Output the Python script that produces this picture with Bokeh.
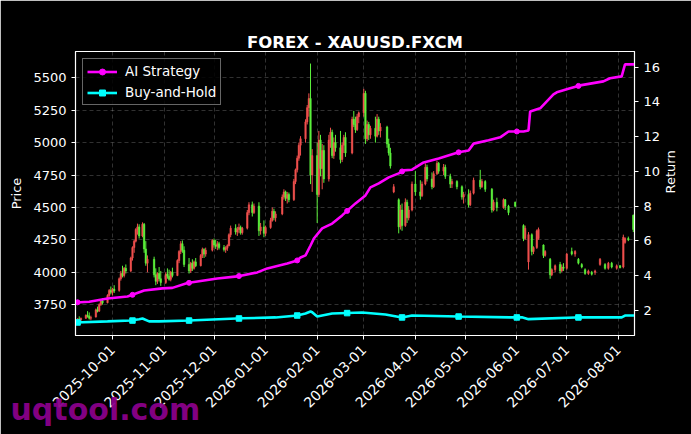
import math
import datetime as dt
from bokeh.plotting import figure
from bokeh.models import (ColumnDataSource, Range1d, LinearAxis, FixedTicker,
                          DatetimeTickFormatter, Legend, LegendItem, Title)
from bokeh.embed import file_html
from bokeh.resources import INLINE

TITLE = "FOREX - XAUUSD.FXCM"
WATERMARK = "uqtool.com"
START = dt.datetime(2025, 9, 9)

# ---- candles: day offset from START, OHLC ----
candle_day = [1, 2, 3, 6, 7, 8, 9, 12, 13, 14, 15, 16, 19, 20, 21, 22, 23,
              26, 27, 28, 29, 30, 33, 34, 35, 36, 37, 38, 40, 41, 42, 43,
              47, 48, 49, 50, 51, 54, 55, 56, 57, 58, 61, 62, 63, 64, 65,
              68, 69, 70, 71, 72, 75, 76, 77, 78, 82, 83, 84, 85, 86, 89, 90, 91,
              92, 93, 96, 97, 98, 99, 100, 103, 104, 106, 107, 110, 111, 113, 114, 117, 118, 119, 120, 124, 125, 126, 127, 128,
              131, 132, 133, 134, 135, 138, 139, 140, 141, 142, 145, 146, 147, 148, 149, 152, 153, 154, 155, 156, 159, 160, 161, 162,
              166, 167, 168, 169, 170, 173, 174, 175, 176, 177, 180, 181, 182, 183, 187, 188, 189, 191, 194, 195, 196, 198, 199, 200,
              202, 204, 207, 208, 210, 211, 214, 215, 217, 218, 221, 222, 225, 226, 229, 232, 233, 236, 237, 239, 243, 244, 246, 250, 251, 253, 257, 258, 260, 264,
              269, 270, 272, 274, 275, 277, 278, 281, 282, 285, 286, 288, 291, 292, 293, 295, 298, 300, 302, 304, 306, 308, 310, 312, 315, 318, 320, 322, 325, 327, 329, 330, 332, 335]
candle_open = [3625, 3640, 3632, 3645, 3668, 3660, 3645, 3655, 3710, 3700, 3750, 3780, 3765, 3820, 3860, 3845, 3870,
               3860, 3950, 3990, 3975, 4030, 4010, 4110, 4190, 4240, 4330, 4350, 4280, 4370, 4180, 4070,
               4100, 3980, 3930, 3990, 3950, 3920, 3985, 3970, 3945, 4000, 3975, 4090, 4160, 4220, 4170,
               4060, 4010, 4070, 4030, 4080, 4050, 4130, 4175, 4140, 4170, 4245, 4210, 4200, 4220, 4190, 4175, 4185,
               4205, 4290, 4340, 4310, 4330, 4345, 4305, 4340, 4460, 4520, 4460, 4510, 4320, 4350, 4300, 4345, 4400, 4470, 4420, 4450, 4580, 4620, 4570, 4600,
               4560, 4700, 4790, 4880, 4980, 5030, 5160, 5270, 5340, 4750, 4900, 4600, 5020, 4800, 4940, 4720, 5020, 5080, 4900, 5000, 4960, 4870, 4980, 5040,
               4920, 5180, 5140, 5100, 5200, 5230, 5380, 5030, 5140, 5060, 5110, 5050, 5180, 5090, 5120, 4990, 4920, 4620, 4560, 4350, 4480, 4360, 4540, 4420,
               4480, 4680, 4620, 4590, 4680, 4810, 4720, 4660, 4760, 4840, 4780, 4810, 4740, 4680, 4700, 4660, 4580, 4600, 4520, 4610, 4710, 4660, 4700, 4640, 4480, 4540, 4500, 4560, 4510, 4540,
               4360, 4260, 4080, 4290, 4160, 4190, 4260, 4210, 4130, 4100, 3980, 4020, 4060, 4010, 4040, 4030, 4160, 4140, 4100, 4060, 4020, 3990, 4000, 4000, 4060, 4060, 4030, 4070, 4030, 4050, 4040, 4230, 4260, 4440]
candle_high = [3645, 3660, 3650, 3675, 3700, 3690, 3665, 3720, 3735, 3760, 3790, 3800, 3830, 3870, 3890, 3880, 3900,
               3960, 4010, 4050, 4040, 4060, 4120, 4200, 4250, 4340, 4375, 4370, 4385, 4380, 4240, 4130,
               4120, 4030, 4000, 4040, 4010, 4000, 4030, 4020, 4010, 4035, 4100, 4170, 4240, 4245, 4200,
               4110, 4080, 4100, 4090, 4110, 4140, 4190, 4185, 4190, 4255, 4260, 4250, 4240, 4235, 4210, 4200, 4215,
               4300, 4360, 4370, 4350, 4375, 4360, 4350, 4480, 4540, 4545, 4530, 4540, 4380, 4400, 4360, 4420, 4500, 4490, 4470, 4600, 4640, 4630, 4620, 4615,
               4720, 4800, 4900, 5000, 5050, 5180, 5290, 5380, 5610, 4950, 5000, 5090, 5060, 4990, 4980, 5060, 5115, 5100, 5040, 5060, 5090, 5000, 5060, 5080,
               5200, 5245, 5200, 5220, 5240, 5415, 5400, 5170, 5160, 5130, 5200, 5220, 5200, 5150, 5130, 5030, 4960, 4680, 4570, 4520, 4530, 4570, 4560, 4510,
               4700, 4780, 4710, 4700, 4840, 4830, 4770, 4780, 4860, 4850, 4835, 4830, 4760, 4720, 4710, 4670, 4620, 4640, 4630, 4730, 4790, 4720, 4710, 4650, 4560, 4575, 4570, 4565, 4520, 4545,
               4370, 4360, 4310, 4300, 4200, 4330, 4345, 4215, 4170, 4110, 4030, 4060, 4080, 4060, 4070, 4150, 4190, 4170, 4110, 4070, 4030, 4020, 4010, 4020, 4110, 4070, 4080, 4080, 4060, 4055, 4290, 4270, 4275, 4445]
candle_low = [3615, 3628, 3620, 3640, 3650, 3635, 3630, 3650, 3690, 3695, 3740, 3750, 3760, 3810, 3830, 3820, 3840,
              3850, 3935, 3960, 3960, 3990, 4000, 4090, 4150, 4230, 4290, 4260, 4270, 4150, 4050, 4000,
              3960, 3900, 3910, 3930, 3895, 3910, 3950, 3935, 3930, 3960, 3970, 4070, 4140, 4150, 4040,
              3990, 3995, 4010, 4020, 4040, 4045, 4110, 4110, 4120, 4160, 4190, 4180, 4170, 4175, 4160, 4150, 4165,
              4200, 4270, 4290, 4280, 4300, 4290, 4290, 4330, 4440, 4430, 4450, 4280, 4290, 4270, 4280, 4335, 4390, 4400, 4390, 4440, 4560, 4550, 4530, 4540,
              4550, 4680, 4770, 4860, 4900, 5000, 5140, 5200, 4680, 4620, 4380, 4580, 4740, 4640, 4690, 4700, 4960, 4880, 4875, 4930, 4840, 4850, 4920, 4890,
              4910, 5120, 5075, 5090, 5150, 5200, 4990, 5010, 5020, 5030, 5000, 5040, 5060, 5040, 4960, 4900, 4800, 4610, 4300, 4330, 4320, 4350, 4380, 4400,
              4470, 4590, 4560, 4580, 4670, 4700, 4640, 4650, 4750, 4760, 4750, 4720, 4650, 4650, 4640, 4560, 4530, 4500, 4510, 4600, 4640, 4650, 4620, 4460, 4470, 4470, 4490, 4480, 4440, 4500,
              4240, 4250, 4020, 4130, 4140, 4180, 4250, 4110, 4120, 3950, 3970, 4000, 3990, 4000, 4010, 4020, 4130, 4120, 4060, 4030, 3980, 3980, 3975, 3980, 4050, 4020, 4020, 4030, 4020, 4030, 4030, 4220, 4240, 4310]
candle_close = [3640, 3635, 3645, 3668, 3660, 3645, 3650, 3710, 3700, 3750, 3780, 3765, 3820, 3860, 3845, 3870, 3855,
                3950, 3990, 3975, 4030, 4010, 4110, 4190, 4240, 4330, 4350, 4280, 4370, 4180, 4070, 4100,
                3980, 3930, 3990, 3950, 3920, 3985, 3970, 3945, 4000, 3975, 4090, 4160, 4220, 4170, 4060,
                4010, 4070, 4030, 4080, 4050, 4130, 4175, 4140, 4170, 4245, 4210, 4200, 4220, 4190, 4175, 4185, 4205,
                4290, 4340, 4310, 4330, 4345, 4305, 4340, 4460, 4520, 4460, 4510, 4320, 4350, 4300, 4345, 4400, 4470, 4420, 4450, 4580, 4620, 4570, 4600, 4560,
                4700, 4790, 4880, 4980, 5030, 5160, 5270, 5340, 4750, 4900, 4600, 5020, 4800, 4940, 4720, 5020, 5080, 4900, 5000, 4960, 4870, 4980, 5040, 4920,
                5180, 5140, 5100, 5200, 5230, 5380, 5030, 5140, 5060, 5110, 5050, 5180, 5090, 5120, 4990, 4920, 4820, 4660, 4350, 4480, 4360, 4540, 4420, 4480,
                4680, 4620, 4590, 4680, 4810, 4720, 4660, 4760, 4840, 4780, 4810, 4740, 4680, 4700, 4660, 4580, 4600, 4520, 4610, 4710, 4660, 4700, 4640, 4480, 4540, 4500, 4560, 4510, 4460, 4510,
                4260, 4340, 4290, 4160, 4190, 4320, 4330, 4130, 4160, 3980, 4020, 4050, 4010, 4040, 4030, 4140, 4140, 4160, 4070, 4040, 3990, 4010, 3985, 4010, 4100, 4030, 4070, 4040, 4050, 4035, 4270, 4260, 4250, 4330]

# ---- return series (right axis) ----
ai_day = [0, 8, 19, 31, 34, 41, 52, 58, 67, 85, 97, 109, 115, 127, 133, 135, 138, 141, 143, 148,
          154, 160, 168, 174, 177, 182, 188, 194, 197, 202, 209, 218, 230, 236, 239, 248, 255, 260, 269, 272,
          273, 279, 283, 287, 289, 297, 303, 317, 321, 328, 330, 336]
ai_ret = [2.46, 2.5, 2.69, 2.8, 2.9, 3.15, 3.27, 3.3, 3.58, 3.84, 3.96, 4.19, 4.42, 4.7, 4.88, 5.05, 5.17, 5.74, 6.14, 6.72,
          7.0, 7.47, 8.16, 8.62, 9.08, 9.31, 9.66, 9.89, 10.06, 10.1, 10.52, 10.75, 11.1, 11.2, 11.6, 11.8, 11.96, 12.3, 12.3, 12.36,
          13.45, 13.63, 14.03, 14.43, 14.55, 14.78, 14.95, 15.18, 15.36, 15.47, 16.16, 16.16]
bh_day = [0, 19, 33, 38, 40, 44, 50, 68, 100, 120, 133, 138, 141, 142, 145, 154, 172, 186, 196, 202,
          230, 262, 268, 272, 300, 328, 330, 336]
bh_ret = [1.31, 1.37, 1.42, 1.50, 1.54, 1.37, 1.37, 1.42, 1.55, 1.6, 1.71, 1.83, 1.94, 1.9, 1.65, 1.83, 1.88, 1.77, 1.6, 1.71,
          1.65, 1.6, 1.61, 1.5, 1.6, 1.6, 1.71, 1.71]
marker_day = [1, 34, 68, 98, 133, 163, 196, 230, 265, 302]
ai_marker_ret = [2.47, 2.9, 3.59, 3.98, 4.88, 7.73, 10.0, 11.1, 12.3, 14.92]
bh_marker_ret = [1.31, 1.42, 1.42, 1.54, 1.71, 1.85, 1.6, 1.65, 1.6, 1.6]

price_ticks = [3750, 4000, 4250, 4500, 4750, 5000, 5250, 5500]
return_ticks = [2, 4, 6, 8, 10, 12, 14, 16]
month_ticks = ["2025-10-01", "2025-11-01", "2025-12-01", "2026-01-01", "2026-02-01", "2026-03-01",
               "2026-04-01", "2026-05-01", "2026-06-01", "2026-07-01", "2026-08-01"]

UP = "#f0504e"
DOWN = "#5cf23c"
FONT = "DejaVu Sans"


def to_dt(d):
    return START + dt.timedelta(days=d)


def to_ms(t):
    return (t - dt.datetime(1970, 1, 1)).total_seconds() * 1000.0


assert len(candle_day) == len(candle_open) == len(candle_high) == len(candle_low) == len(candle_close)

cd = ColumnDataSource(dict(
    x=[to_dt(d) for d in candle_day],
    high=candle_high, low=candle_low,
    top=[max(o, c) for o, c in zip(candle_open, candle_close)],
    bottom=[min(o, c) for o, c in zip(candle_open, candle_close)],
    color=[UP if c >= o else DOWN for o, c in zip(candle_open, candle_close)],
))

p = figure(width=691, height=434, x_axis_type="datetime",
           x_range=Range1d(to_ms(dt.datetime(2025, 9, 8, 18)), to_ms(dt.datetime(2026, 8, 10, 17))),
           y_range=Range1d(3512, 5703),
           output_backend="svg", toolbar_location=None, title=None,
           min_border_left=75, min_border_right=57, min_border_top=51, min_border_bottom=99,
           background_fill_color="black", border_fill_color="black",
           outline_line_color="white", outline_line_width=1.2)
p.extra_y_ranges = {"ret": Range1d(0.56, 16.9)}

# keep direct handles on the real axes before anything else is added
xaxis = p.below[0]
yaxis = p.left[0]

# empty (tick-less, line-less) axis used as a spacer next to the frame,
# then the visible title stacked above it
spacer_axis = LinearAxis(ticker=FixedTicker(ticks=[]), major_tick_out=22, major_tick_in=0,
                         minor_tick_out=0, minor_tick_in=0,
                         axis_line_color=None, major_tick_line_color=None, minor_tick_line_color=None,
                         major_label_text_font_size="0px")
p.add_layout(spacer_axis, "above")
main_title = Title(text=TITLE, text_color="white", text_font=FONT, text_font_size="16.5px",
                   text_font_style="bold", align="center", vertical_align="bottom", standoff=0)
p.add_layout(main_title, "above")

# candles
p.segment(x0="x", x1="x", y0="high", y1="low", color="color", line_width=1, source=cd)
p.vbar(x="x", width=0.9 * 86400000, top="top", bottom="bottom",
       fill_color="color", line_color="color", line_width=0.5, source=cd)

# return lines
ai_line = p.line([to_dt(d) for d in ai_day], ai_ret, y_range_name="ret", color="#ff00ff", line_width=2.6)
ai_mk = p.scatter([to_dt(d) for d in marker_day], ai_marker_ret, y_range_name="ret",
                  marker="circle", size=5, color="#ff00ff")
bh_line = p.line([to_dt(d) for d in bh_day], bh_ret, y_range_name="ret", color="#00ffff", line_width=2.6)
bh_mk = p.scatter([to_dt(d) for d in marker_day], bh_marker_ret, y_range_name="ret",
                  marker="square", size=5.5, color="#00ffff")

# axes
ret_axis = LinearAxis(y_range_name="ret", axis_label="Return",
                      ticker=FixedTicker(ticks=return_ticks))
try:
    ret_axis.axis_label_orientation = math.pi / 2
except Exception:
    pass
p.add_layout(ret_axis, "right")

xt = FixedTicker(ticks=[to_ms(dt.datetime.strptime(s, "%Y-%m-%d")) for s in month_ticks])
xaxis.ticker = xt
p.xgrid[0].ticker = xt
fmt = "%Y-%m-%d"
xaxis.formatter = DatetimeTickFormatter(milliseconds=fmt, seconds=fmt, minsec=fmt, minutes=fmt,
                                        hourmin=fmt, hours=fmt, days=fmt, months=fmt, years=fmt)
xaxis.major_label_orientation = math.pi / 4

yt = FixedTicker(ticks=price_ticks)
yaxis.ticker = yt
p.ygrid[0].ticker = yt
yaxis.axis_label = "Price"

for ax in [xaxis, yaxis, ret_axis]:
    ax.axis_line_color = "white"
    ax.major_tick_line_color = "white"
    ax.minor_tick_line_color = None
    ax.major_tick_out = 4
    ax.major_tick_in = 0
    ax.major_label_text_color = "white"
    ax.major_label_text_font = FONT
    ax.major_label_text_font_size = "13px"
    ax.axis_label_text_color = "white"
    ax.axis_label_text_font = FONT
    ax.axis_label_text_font_size = "13px"
    ax.axis_label_text_font_style = "normal"
xaxis.major_label_text_font_size = "14px"
xaxis.major_label_standoff = 8
yaxis.axis_label_standoff = 6
ret_axis.axis_label_standoff = 7

for g in [p.xgrid[0], p.ygrid[0]]:
    g.grid_line_color = "white"
    g.grid_line_alpha = 0.28
    g.grid_line_dash = "4 3"
    g.grid_line_width = 0.7

legend = Legend(items=[LegendItem(label="AI Strategy", renderers=[ai_line, ai_mk]),
                       LegendItem(label="Buy-and-Hold", renderers=[bh_line, bh_mk])],
                location="top_left", label_text_color="white", label_text_font=FONT,
                label_text_font_size="13.5px", background_fill_color="black",
                background_fill_alpha=0.85, border_line_color="#cccccc", border_line_width=1,
                glyph_width=30, glyph_height=15, label_standoff=8, padding=4, spacing=5, margin=7)
p.add_layout(legend)

wm = Title(text=WATERMARK, align="left", offset=-65, vertical_align="top", standoff=-48,
           text_color="#8b008b", text_alpha=0.95, text_font=FONT, text_font_size="30px",
           text_font_style="bold")
p.add_layout(wm, "below")

open("out.html", "w").write(file_html(p, INLINE))
